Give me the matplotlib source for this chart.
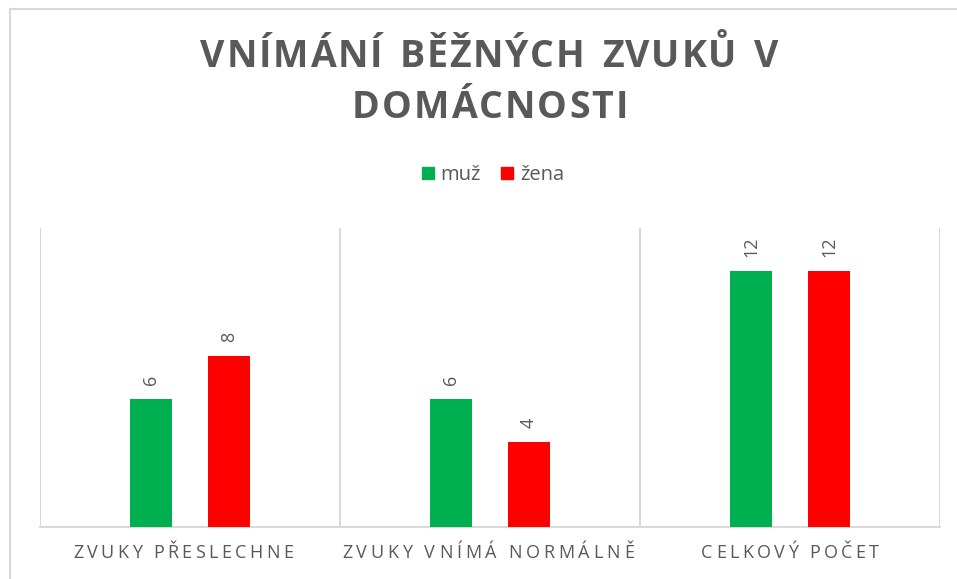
import matplotlib
matplotlib.use("Agg")
import matplotlib.pyplot as plt
import numpy as np
from matplotlib.patches import Patch

categories = ["ZVUKY PŘESLECHNE", "ZVUKY VNÍMÁ NORMÁLNĚ", "CELKOVÝ POČET"]
muz = [6, 6, 12]
zena = [8, 4, 12]
series_names = ["muž", "žena"]
title_lines = ["VNÍMÁNÍ BĚŽNÝCH ZVUKŮ V", "DOMÁCNOSTI"]

GREEN = "#00B050"
RED = "#FF0000"
GRID = "#D9D9D9"
TEXT = "#595959"
FONT = "Open Sans"

W, H = 957, 579
fig = plt.figure(figsize=(W / 100, H / 100), dpi=100)
fig.patch.set_facecolor("white")

def fx(px):
    return px / W

def fy(py):
    return 1 - py / H

# chart border (left and top edges visible)
fig.add_artist(plt.Line2D([fx(10), fx(10)], [fy(9), 0], color=GRID, lw=1.5, transform=fig.transFigure))
fig.add_artist(plt.Line2D([fx(10), 1], [fy(9), fy(9)], color=GRID, lw=1.5, transform=fig.transFigure))

ax = fig.add_axes([fx(40), fy(527), fx(940) - fx(40), fy(228) - fy(527)])
x = np.arange(len(categories))
bw = 0.137
off = 0.13
b1 = ax.bar(x - off, muz, bw, color=GREEN, zorder=3)
b2 = ax.bar(x + off, zena, bw, color=RED, zorder=3)
ax.set_xlim(-0.5, len(categories) - 0.5)
ax.set_ylim(0, 14)
for s in ["top", "left", "right"]:
    ax.spines[s].set_visible(False)
ax.spines["bottom"].set_color(GRID)
ax.spines["bottom"].set_linewidth(1.5)
ax.set_yticks([])
ax.set_xticks([])
for b in np.arange(-0.5, len(categories), 1.0):
    ax.axvline(b, color=GRID, lw=1.5, zorder=1)

for bars in (b1, b2):
    ax.bar_label(bars, rotation=90, padding=10, fontsize=13, color=TEXT, family=FONT)

fig.canvas.draw()
renderer = fig.canvas.get_renderer()

def tracked(text, cx_px, cy_px, width_px, space=0.55, **kw):
    widths = []
    for ch in text:
        t = fig.text(0, 0, ch if ch != " " else "n", **kw)
        bb = t.get_window_extent(renderer)
        w = bb.width
        t.remove()
        if ch == " ":
            w *= space
        widths.append(w)
    n = len(text)
    track = (width_px - sum(widths)) / (n - 1)
    xpos = cx_px - width_px / 2
    for ch, w in zip(text, widths):
        if ch != " ":
            fig.text(fx(xpos), fy(cy_px), ch, ha="left", va="center", **kw)
        xpos += w + track

tracked(title_lines[0], 489, 57, 578, fontsize=27, fontweight="bold", color=TEXT, family=FONT)
tracked(title_lines[1], 490, 108, 276, fontsize=27, fontweight="bold", color=TEXT, family=FONT)

label_widths = [220, 292, 178]
label_shift = [-7, -2, 0]
for i, cat in enumerate(categories):
    px = ax.transData.transform((x[i], 0))[0]
    tracked(cat, px + label_shift[i], 553, label_widths[i], space=0.4, fontsize=13, color=TEXT, family=FONT)

handles = [Patch(color=GREEN, label=series_names[0]), Patch(color=RED, label=series_names[1])]
fig.legend(handles=handles, loc="center", bbox_to_anchor=(fx(493), fy(175)), ncol=2, frameon=False,
           prop={"family": FONT, "size": 14.5}, labelcolor=TEXT, handlelength=0.6, handleheight=0.6,
           handletextpad=0.35, columnspacing=1.0)

fig.savefig("out.png", dpi=100, facecolor="white")
